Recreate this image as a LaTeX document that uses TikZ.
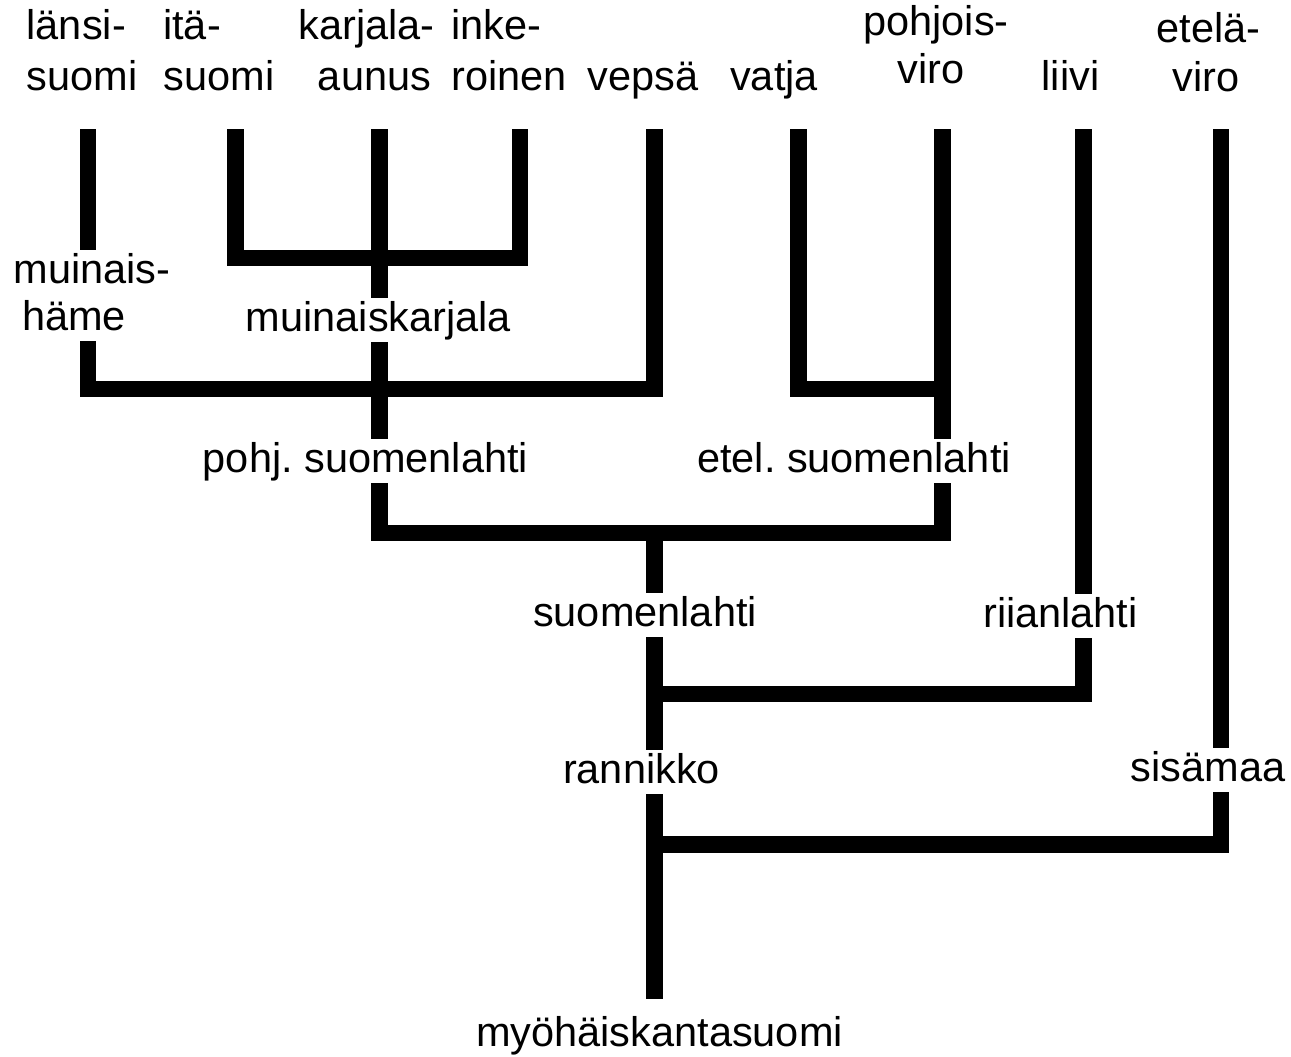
\documentclass[tikz,border=0pt]{standalone}
\usepackage{fontspec}
\setmainfont{Liberation Sans}
\begin{document}
\frenchspacing
\begin{tikzpicture}[x=1pt,y=-1pt,
  branch/.style={line width=16.5pt, line cap=butt, line join=miter},
  lbl/.style={inner sep=0pt, font=\fontsize{41.5}{48}\selectfont\frenchspacing, text height=33pt, text depth=11pt, anchor=base}]
\useasboundingbox (0,0) rectangle (1291,1057);

% top labels
\node[lbl,anchor=base west] (lansiA) at (26.5,40) {länsi-};
\node[lbl,anchor=base west] (lansiB) at (26.5,90) {suomi};
\node[lbl,anchor=base west] (itaA) at (163,40) {itä-};
\node[lbl,anchor=base west] (itaB) at (163.5,90) {suomi};
\node[lbl] (karjA) at (366.5,40) {karjala-};
\node[lbl] (karjB) at (374.5,90) {aunus};
\node[lbl,anchor=base west] (inkeA) at (451,40) {inke-};
\node[lbl,anchor=base west] (inkeB) at (451,90) {roinen};
\node[lbl] (vepsa) at (643,90) {vepsä};
\node[lbl] (vatja) at (774,90) {vatja};
\node[lbl] (pohjoisA) at (936,36) {pohjois-};
\node[lbl] (pohjoisB) at (931,84) {viro};
\node[lbl] (liivi) at (1070.5,90) {liivi};
\node[lbl] (etelaA) at (1208.5,43) {etelä-};
\node[lbl] (etelaB) at (1206,92) {viro};

% inner labels
\node[lbl] (muinaisA) at (92,283) {muinais-};
\node[lbl] (hame) at (74,330) {häme};
\node[lbl] (mkarjala) at (378.5,331) {muinaiskarjala};
\node[lbl] (pohj) at (365.5,472) {pohj.\ suomenlahti};
\node[lbl] (etel) at (854,472) {etel.\ suomenlahti};
\node[lbl] (suomenlahti) at (645,626) {suomenlahti};
\node[lbl] (riian) at (1060.5,627) {riianlahti};
\node[lbl] (rannikko) at (641.5,783) {rannikko};
\node[lbl] (sisamaa) at (1208,781) {sisämaa};
\node[lbl] (root) at (659.5,1046) {myöhäiskantasuomi};

% line tops
\coordinate (tA) at (88,129);
\coordinate (tB) at (235.5,129);
\coordinate (tC) at (379.5,129);
\coordinate (tD) at (520,129);
\coordinate (tE) at (654.5,129);
\coordinate (tF) at (798.5,129);
\coordinate (tG) at (942.5,129);
\coordinate (tH) at (1083.5,129);
\coordinate (tI) at (1221,129);
% junctions
\coordinate (jB) at (235.5,258);
\coordinate (jD) at (520,258);
\coordinate (jA) at (88,389);
\coordinate (jE) at (654.5,389);
\coordinate (jF) at (798.5,389);
\coordinate (jG) at (942.5,389);
\coordinate (jC) at (379.5,533);
\coordinate (jG2) at (942.5,533);
\coordinate (jT1) at (654.5,533);
\coordinate (jH) at (1083.5,694);
\coordinate (jT2) at (654.5,694);
\coordinate (jI) at (1221,844.5);
\coordinate (jT3) at (654.5,844.5);
\coordinate (tEnd) at (654.5,999);

% branches
\draw[branch] (tA) -- (tA |- muinaisA.north);
\draw[branch] (jA |- hame.south) -- (jA) -- (jE) -- (tE);
\draw[branch] (tB) -- (jB) -- (jD) -- (tD);
\draw[branch] (tC) -- (tC |- mkarjala.north);
\draw[branch] (tC |- mkarjala.south) -- (tC |- pohj.north);
\draw[branch] (tF) -- (jF) -- (jG);
\draw[branch] (tG) -- (tG |- etel.north);
\draw[branch] (jC |- pohj.south) -- (jC) -- (jG2) -- (jG2 |- etel.south);
\draw[branch] (jT1) -- (jT1 |- suomenlahti.north);
\draw[branch] (tH) -- (tH |- riian.north);
\draw[branch] (tH |- riian.south) -- (jH) -- (jT2);
\draw[branch] (jT2 |- suomenlahti.south) -- (jT2 |- rannikko.north);
\draw[branch] (tI) -- (tI |- sisamaa.north);
\draw[branch] (tI |- sisamaa.south) -- (jI) -- (jT3);
\draw[branch] (jT3 |- rannikko.south) -- (tEnd);
\end{tikzpicture}
\end{document}
